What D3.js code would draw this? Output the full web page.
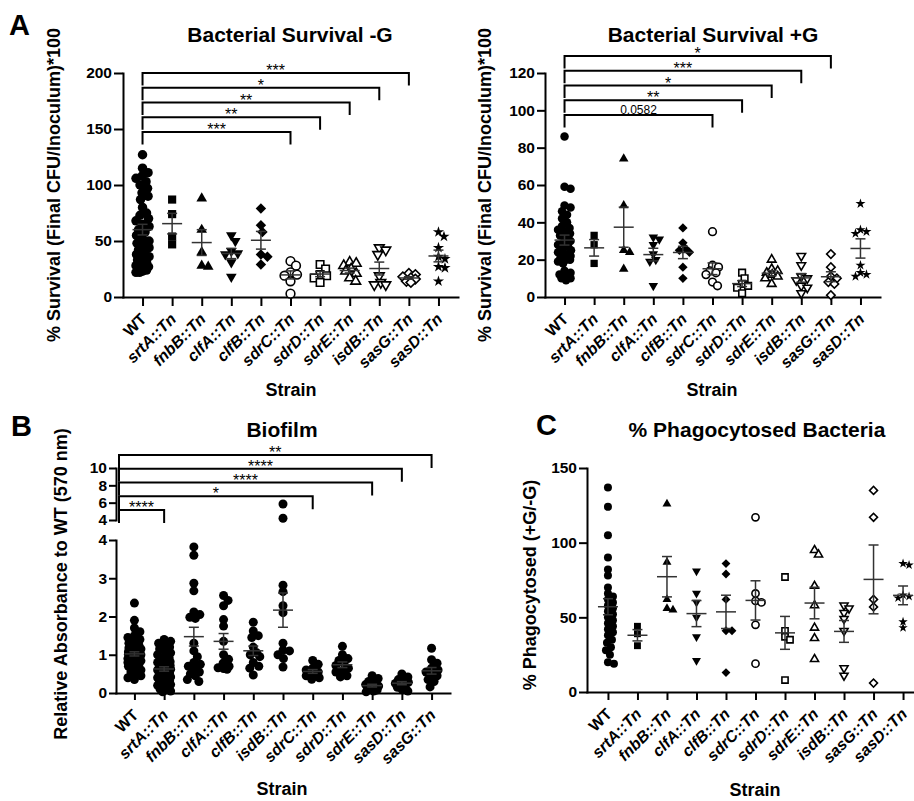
<!DOCTYPE html>
<html>
<head>
<meta charset="utf-8">
<script src="https://cdn.jsdelivr.net/npm/d3@7"></script>
<style>
  body { margin: 0; background: #fff; }
  svg text { font-family: "Liberation Sans", Arial, Helvetica, sans-serif; }
</style>
</head>
<body>
<svg id="fig" width="914" height="801"></svg>
<script>
// ---------- categories ----------
const strainsSurvival = ["WT","srtA::Tn","fnbB::Tn","clfA::Tn","clfB::Tn","sdrC::Tn","sdrD::Tn","sdrE::Tn","isdB::Tn","sasG::Tn","sasD::Tn"];
const strainsBiofilm  = ["WT","srtA::Tn","fnbB::Tn","clfA::Tn","clfB::Tn","isdB::Tn","sdrC::Tn","sdrD::Tn","sdrE::Tn","sasD::Tn","sasG::Tn"];

// ---------- replicate values (one array per strain, in category order) ----------
const survivalNoGent = [
  [127,115,111,108,106,103,100,97,93,90,87,80,75,73,70,68,65,63,60,58,55,52,50,48,46,44,42,40,38,36,35,33,31,30,28,27,26,25,24,23,22,22],
  [87,74,54,47],
  [88,60,40,28,27],
  [55,50,41,39,38,31,18],
  [79,64,58,38,36,29],
  [32,28,22,20,19,14,3],
  [29,25,20,19,17,13],
  [31,30,28,25,23,21,17,14],
  [44,42,38,19,13,11,11],
  [21,20,18,17,16,14,13],
  [58,54,44,36,34,27,26,14]
];
const survivalGent = [
  [86,59,58,49,48,46,44,42,40,38,37,36,35,34,33,32,30,29,28,27,26,25,24,23,22,21,20,20,19,18,14,13,12,11,10,10,9],
  [33,28,18],
  [74,49,25,24,15],
  [32,31,28,23,20,19,6],
  [37,29,26,25,24,16,10],
  [35,17,16,14,13,12,8,6],
  [13,10,7,6,5,2],
  [20,15,14,13,12,11,10,7],
  [22,17,11,10,9,6,5,2],
  [23,16,11,10,8,7,1],
  [50,36,35,34,17,13,12,11]
];
const biofilmAbs = [
  [2.35,1.9,1.7,1.6,1.5,1.45,1.4,1.35,1.3,1.25,1.2,1.18,1.15,1.12,1.1,1.08,1.06,1.05,1.04,1.03,1.02,1.01,1.0,1.0,0.99,0.98,0.97,0.96,0.95,0.93,0.92,0.9,0.88,0.86,0.84,0.82,0.8,0.78,0.75,0.72,0.7,0.65,0.6,0.55,0.5,0.45,0.4,0.35],
  [1.4,1.35,1.3,1.25,1.2,1.15,1.1,1.05,1.0,0.95,0.92,0.9,0.85,0.82,0.8,0.78,0.75,0.72,0.7,0.68,0.65,0.62,0.6,0.58,0.55,0.52,0.5,0.48,0.45,0.42,0.4,0.38,0.35,0.32,0.3,0.28,0.25,0.22,0.2,0.15,0.12,0.1,0.08,0.05,0.03],
  [3.82,3.6,2.87,2.67,2.12,2.05,1.98,1.95,1.3,1.1,0.95,0.8,0.75,0.7,0.65,0.55,0.5,0.45,0.35,0.3],
  [2.55,2.42,2.28,1.92,1.75,1.35,1.0,0.88,0.78,0.7,0.66,0.64,0.62],
  [1.85,1.62,1.5,1.45,1.2,1.05,1.0,0.95,0.8,0.7,0.65,0.47],
  [5.85,4.2,2.82,2.65,2.28,2.1,1.3,1.12,1.1,1.0,0.9,0.68],
  [0.85,0.75,0.65,0.6,0.55,0.52,0.5,0.45,0.4,0.36],
  [1.22,1.0,0.9,0.85,0.78,0.72,0.65,0.58,0.55,0.45,0.42],
  [0.45,0.38,0.3,0.25,0.22,0.2,0.18,0.15,0.12,0.1,0.08,0.05,0.03],
  [0.5,0.42,0.35,0.3,0.28,0.25,0.22,0.2,0.15,0.1,0.05],
  [1.17,0.87,0.78,0.65,0.6,0.55,0.5,0.45,0.35,0.3,0.16]
];
const phagocytosed = [
  [137,124,105,90,82,78,70,66,64,62,60,58,56,54,52,50,48,46,44,42,40,38,35,33,30,28,25,20,19],
  [44,39,31],
  [126,87,62,56,55],
  [81,66,60,50,37,21],
  [86,79,62,41,41,13],
  [117,66,61,60,45,19],
  [77,41,37,35,8],
  [95,92,71,58,43,36,22],
  [58,56,53,49,41,16,11],
  [135,117,62,57,6],
  [86,85,65,64,63,47,43]
];

// ---------- axis ticks ----------
const ticksNoGent = [0,50,100,150,200];
const ticksGent = [0,20,40,60,80,100,120];
const ticksBiofilmLow = [0,1,2,3,4];
const ticksBiofilmHigh = [4,6,8,10];
const ticksPhago = [0,50,100,150];

// ---------- comparisons vs WT (lowest bracket first) ----------
const sigNoGent = [["sdrC::Tn","***"],["sdrD::Tn","**"],["sdrE::Tn","**"],["isdB::Tn","*"],["sasG::Tn","***"]];
const sigGent = [["sdrC::Tn","0.0582"],["sdrD::Tn","**"],["sdrE::Tn","*"],["isdB::Tn","***"],["sasG::Tn","*"]];
const sigBiofilm = [["srtA::Tn","****"],["sdrC::Tn","*"],["sdrE::Tn","****"],["sasD::Tn","****"],["sasG::Tn","**"]];

// ---------- drawing ----------
const fig = d3.select("#fig");

function markerSpec(strain, plain) {
  if (plain) return { type: d3.symbolCircle, open: false, rot: 0 };
  const gene = strain.split("::")[0];
  const table = {
    WT:   [d3.symbolCircle, false, 0],
    srtA: [d3.symbolSquare, false, 0],
    fnbB: [d3.symbolTriangle, false, 0],
    clfA: [d3.symbolTriangle, false, 180],
    clfB: [d3.symbolSquare, false, 45],
    sdrC: [d3.symbolCircle, true, 0],
    sdrD: [d3.symbolSquare, true, 0],
    sdrE: [d3.symbolTriangle, true, 0],
    isdB: [d3.symbolTriangle, true, 180],
    sasG: [d3.symbolSquare, true, 45],
    sasD: [d3.symbolStar, false, 0]
  };
  const [type, open, rot] = table[gene];
  return { type, open, rot };
}

function symbolArea(spec, d) {
  if (spec.type === d3.symbolCircle) return Math.PI * d * d / 4;
  if (spec.type === d3.symbolSquare) return spec.rot ? (d * 0.78) ** 2 : (d * 0.86) ** 2;
  if (spec.type === d3.symbolTriangle) { const s = d * 1.12; return Math.sqrt(3) / 4 * s * s; }
  const r = d * 0.62; return r * r / 0.8908130915292852;
}

// greedy column scatter: keep each marker as close to the centre line as spacing allows
function swarm(ys, D, maxW) {
  const order = ys.map((_, i) => i).sort((a, b) => ys[a] - ys[b]);
  const placed = [], off = new Array(ys.length);
  const cands = [0];
  for (let s = 0.5; s <= maxW; s += 0.5) cands.push(s, -s);
  for (const i of order) {
    let best = 0, bestScore = -1;
    for (const dx of cands) {
      let md = Infinity;
      for (const p of placed) {
        const d = Math.hypot(p.x - dx, p.y - ys[i]);
        if (d < md) md = d;
      }
      if (md >= D) { best = dx; break; }
      if (md > bestScore + 0.25) { bestScore = md; best = dx; }
    }
    off[i] = best;
    placed.push({ x: best, y: ys[i] });
  }
  return off;
}

function styleAxis(sel) {
  sel.select(".domain").attr("stroke", "#000").attr("stroke-width", 2).attr("stroke-linecap", "square");
  sel.selectAll(".tick line").attr("stroke", "#000").attr("stroke-width", 2);
  sel.selectAll(".tick text").attr("fill", "#000").attr("font-size", 15.5).attr("font-weight", "bold")
     .style("font-family", '"Liberation Sans", Arial, sans-serif');
}

function drawPanel(p) {
  const g = fig.append("g");
  const x = d3.scalePoint().domain(p.strains).range(p.xRange).padding(p.pad);
  const x0 = p.xRange[0];

  // y axes (one or two segments)
  p.yAxes.forEach(ax => {
    const ga = g.append("g").attr("transform", `translate(${x0},0)`)
      .call(d3.axisLeft(ax.scale).tickValues(ax.ticks).tickFormat(d3.format("~g"))
        .tickSize(p.tick).tickSizeOuter(0).tickPadding(p.tickPad));
    styleAxis(ga);
  });

  // x axis
  const gx = g.append("g").attr("transform", `translate(0,${p.baseY})`)
    .call(d3.axisBottom(x).tickSize(p.tick).tickSizeOuter(0).tickFormat(""));
  styleAxis(gx);

  p.strains.forEach(s => {
    g.append("text")
      .attr("transform", `translate(${x(s) + 5},${p.baseY + 23}) rotate(-45)`)
      .attr("text-anchor", "end")
      .attr("font-size", 16).attr("font-weight", "bold")
      .attr("font-style", s === "WT" ? "normal" : "italic")
      .text(s);
  });

  // points, then mean ± SEM
  p.values.forEach((vals, i) => {
    const s = p.strains[i], cx = x(s);
    const spec = markerSpec(s, p.plain);
    const ys = vals.map(p.yOf);
    const offs = swarm(ys, p.dot * 0.72, p.spread);
    const d = d3.symbol().type(spec.type).size(symbolArea(spec, spec.open ? p.dot - 0.8 : p.dot))();
    vals.forEach((v, j) => {
      g.append("path").attr("d", d)
        .attr("transform", `translate(${cx + offs[j]},${ys[j]}) rotate(${spec.rot})`)
        .attr("fill", spec.open ? "#fff" : "#000")
        .attr("stroke", spec.open ? "#000" : "none")
        .attr("stroke-width", 1.6);
    });
    const m = d3.mean(vals), se = d3.deviation(vals) / Math.sqrt(vals.length);
    const yHi = p.yOf(m + se), yLo = p.yOf(m - se), yM = p.yOf(m);
    const eb = g.append("g").attr("stroke", "#333").attr("stroke-width", 1.5).attr("fill", "none");
    eb.append("line").attr("x1", cx - 10).attr("x2", cx + 10).attr("y1", yM).attr("y2", yM);
    eb.append("line").attr("x1", cx).attr("x2", cx).attr("y1", yHi).attr("y2", yLo);
    eb.append("line").attr("x1", cx - 5).attr("x2", cx + 5).attr("y1", yHi).attr("y2", yHi);
    eb.append("line").attr("x1", cx - 5).attr("x2", cx + 5).attr("y1", yLo).attr("y2", yLo);
  });

  // significance brackets against WT
  const xl = p.br.left != null ? p.br.left : x(p.strains[0]);
  p.sig.forEach(([target, label], k) => {
    const yl = p.br.base - k * p.br.step;
    const xr = x(target);
    g.append("path")
      .attr("d", `M${xl},${yl + p.br.leg}V${yl}H${xr}V${yl + p.br.leg}`)
      .attr("fill", "none").attr("stroke", "#000").attr("stroke-width", 2);
    const isStars = /^\*+$/.test(label);
    g.append("text")
      .attr("x", (xl + xr) / 2).attr("y", isStars ? yl + 3 : yl - 1.5)
      .attr("text-anchor", "middle")
      .attr("font-size", isStars ? 16 : 12)
      .text(label);
  });

  // titles and axis labels
  g.append("text").attr("x", p.title.x).attr("y", p.title.y).attr("text-anchor", "middle")
    .attr("font-size", 21).attr("font-weight", "bold").text(p.title.text);
  g.append("text").attr("transform", `translate(${p.ylab.x},${p.ylab.y}) rotate(-90)`)
    .attr("text-anchor", "middle").attr("font-size", 18).attr("font-weight", "bold").text(p.ylab.text);
  g.append("text").attr("x", p.xlab.x).attr("y", p.xlab.y).attr("text-anchor", "middle")
    .attr("font-size", 18).attr("font-weight", "bold").text("Strain");
  if (p.letter) {
    g.append("text").attr("x", p.letter.x).attr("y", p.letter.y)
      .attr("font-size", 29).attr("font-weight", "bold").text(p.letter.text);
  }
}

// Panel A, without gentamicin
const yNoGent = d3.scaleLinear().domain([0, 200]).range([297, 73]);
drawPanel({
  strains: strainsSurvival, values: survivalNoGent,
  xRange: [123, 458], pad: 0.66, baseY: 297, tick: 9, tickPad: 2,
  yAxes: [{ scale: yNoGent, ticks: ticksNoGent }], yOf: yNoGent,
  dot: 9.5, spread: 6.5,
  sig: sigNoGent, br: { base: 132, step: 14.75, leg: 12.5 },
  title: { text: "Bacterial Survival -G", x: 290, y: 42 },
  ylab: { text: "% Survival (Final CFU/Inoculum)*100", x: 60, y: 185 },
  xlab: { x: 291, y: 396 },
  letter: { text: "A", x: 9, y: 35 }
});

// Panel A, with gentamicin
const yGent = d3.scaleLinear().domain([0, 120]).range([297, 73]);
drawPanel({
  strains: strainsSurvival, values: survivalGent,
  xRange: [545, 880], pad: 0.66, baseY: 297, tick: 8, tickPad: 2,
  yAxes: [{ scale: yGent, ticks: ticksGent }], yOf: yGent,
  dot: 8.5, spread: 6.5,
  sig: sigGent, br: { base: 115, step: 14.75, leg: 12.5 },
  title: { text: "Bacterial Survival +G", x: 713, y: 42 },
  ylab: { text: "% Survival (Final CFU/Inoculum)*100", x: 491, y: 185 },
  xlab: { x: 712, y: 396 }
});

// Panel B, biofilm with a broken y axis
const yBioLow = d3.scaleLinear().domain([0, 4]).range([693, 540]);
const yBioHigh = d3.scaleLinear().domain([4, 10]).range([520, 468]);
drawPanel({
  strains: strainsBiofilm, values: biofilmAbs, plain: true,
  xRange: [116, 450], pad: 0.62, baseY: 693, tick: 7, tickPad: 2,
  yAxes: [{ scale: yBioLow, ticks: ticksBiofilmLow }, { scale: yBioHigh, ticks: ticksBiofilmHigh }],
  yOf: v => (v <= 4 ? yBioLow(v) : yBioHigh(v)),
  dot: 9, spread: 6.5,
  sig: sigBiofilm, br: { base: 510, step: 13.75, leg: 13, left: 119 },
  title: { text: "Biofilm", x: 282, y: 437 },
  ylab: { text: "Relative Absorbance to WT (570 nm)", x: 67, y: 584 },
  xlab: { x: 282, y: 795 },
  letter: { text: "B", x: 11, y: 436 }
});

// Panel C, phagocytosis ratio
const yPhago = d3.scaleLinear().domain([0, 150]).range([692, 468]);
drawPanel({
  strains: strainsSurvival, values: phagocytosed,
  xRange: [587, 924], pad: 0.71, baseY: 692, tick: 8, tickPad: 2,
  yAxes: [{ scale: yPhago, ticks: ticksPhago }], yOf: yPhago,
  dot: 8, spread: 6.5,
  sig: [], br: { base: 0, step: 0, leg: 0 },
  title: { text: "% Phagocytosed Bacteria", x: 757, y: 437 },
  ylab: { text: "% Phagocytosed (+G/-G)", x: 536, y: 585 },
  xlab: { x: 755, y: 796 },
  letter: { text: "C", x: 536, y: 435 }
});
</script>
</body>
</html>
